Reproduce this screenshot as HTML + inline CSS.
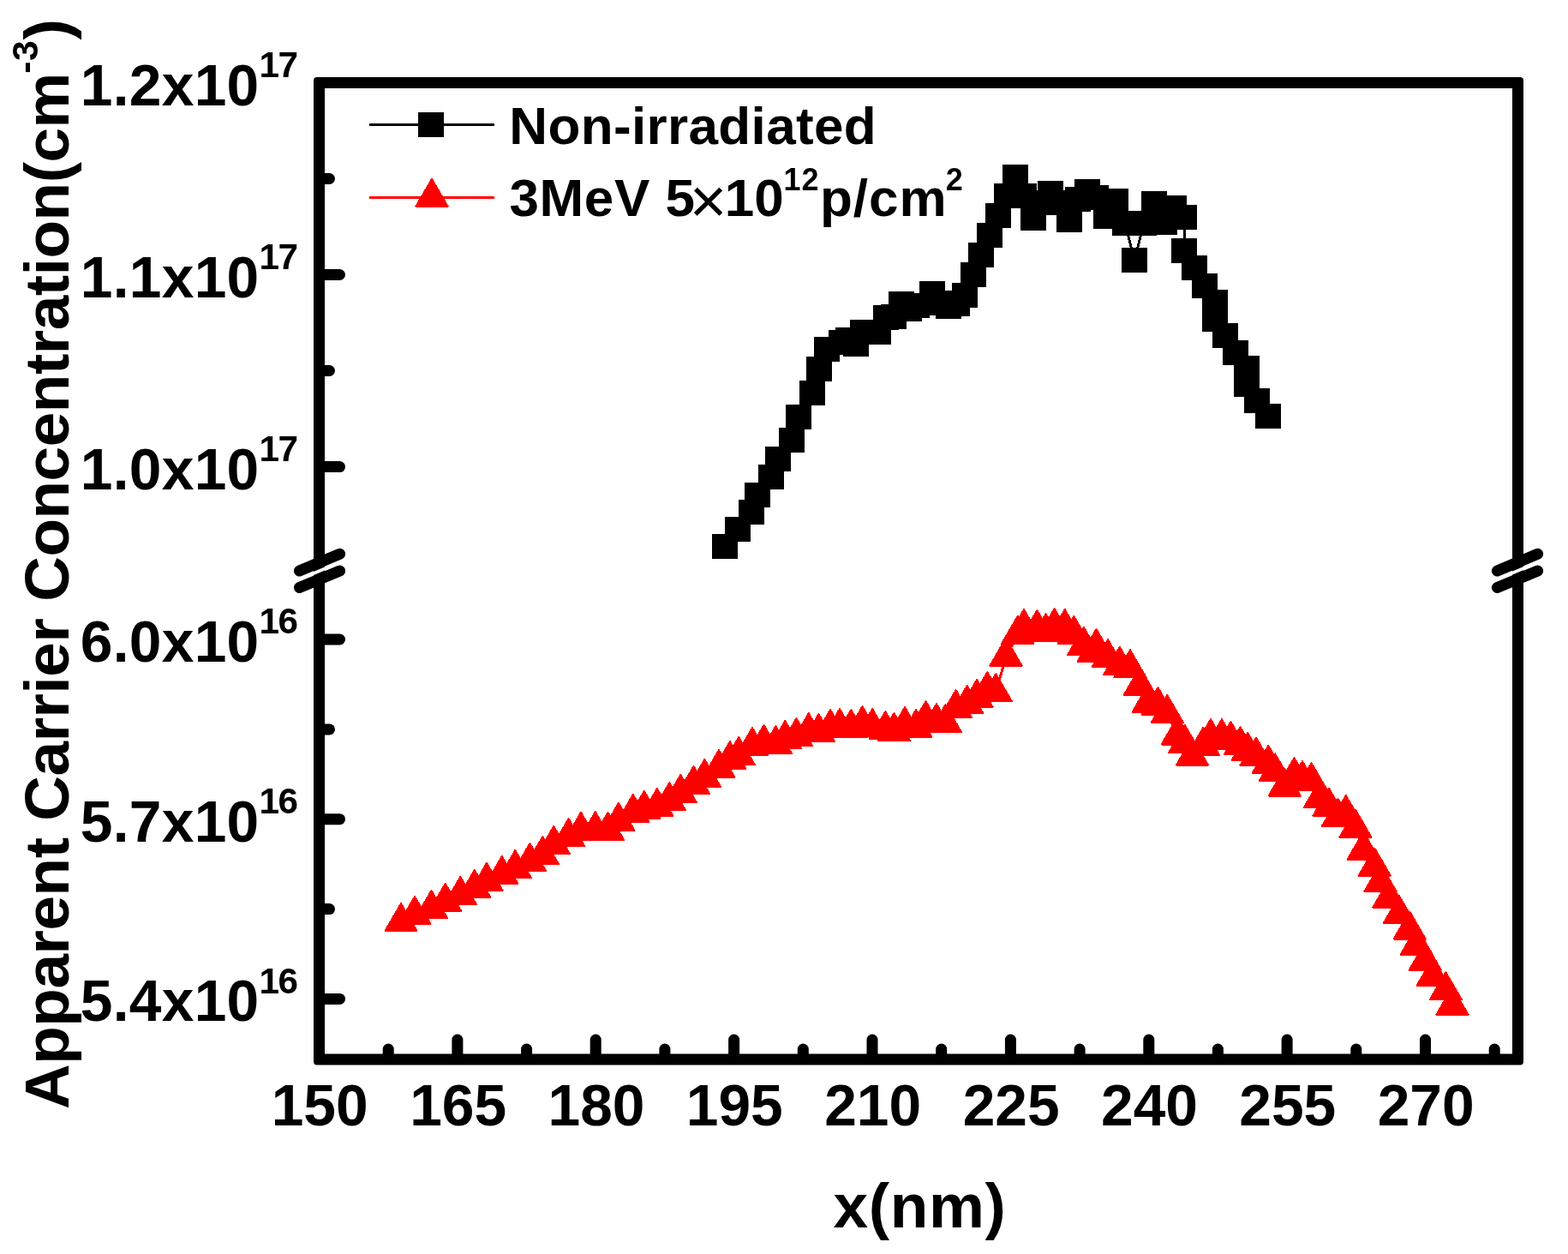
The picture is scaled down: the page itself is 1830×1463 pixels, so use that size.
<!DOCTYPE html>
<html lang="en"><head><meta charset="utf-8"><title>Apparent Carrier Concentration vs x(nm)</title>
<style>html,body{margin:0;padding:0;background:#fff}svg{display:block}</style></head>
<body>
<svg width="1830" height="1463" viewBox="0 0 1830 1463">
<rect width="1830" height="1463" fill="#fff"/>
<g shape-rendering="crispEdges">
<polyline fill="none" stroke="#000" stroke-width="3" points="846.0,637.5 861.0,617.3 876.6,597.4 884.0,577.3 900.0,556.3 908.0,535.3 924.0,513.4 932.0,486.4 948.0,458.0 956.0,430.5 965.0,407.5 982.0,399.5 990.0,396.6 998.8,401.3 1007.2,387.7 1025.0,387.2 1034.0,370.5 1043.0,369.0 1052.0,354.5 1061.0,360.3 1070.0,356.5 1088.0,342.4 1098.0,353.4 1107.0,357.4 1117.0,354.0 1126.0,344.7 1136.0,320.5 1145.0,297.4 1155.0,274.5 1165.0,251.5 1175.0,228.6 1185.0,206.4 1195.0,228.6 1206.0,254.4 1216.0,236.3 1226.4,225.6 1237.0,236.5 1248.0,256.3 1258.0,232.5 1269.0,223.4 1279.4,230.3 1291.0,252.3 1302.0,234.5 1313.0,260.2 1324.0,303.5 1335.0,260.4 1347.0,237.5 1359.0,259.3 1370.0,242.4 1382.0,253.5 1382.0,292.5 1394.0,312.5 1406.0,333.6 1418.0,352.6 1418.0,372.4 1430.0,391.5 1442.0,411.5 1455.0,429.6 1455.0,448.5 1467.0,467.5 1480.0,485.6"/>
<g fill="#000"><rect x="831.0" y="623.0" width="30" height="29"/><rect x="846.0" y="602.8" width="30" height="29"/><rect x="861.6" y="582.9" width="30" height="29"/><rect x="869.0" y="562.8" width="30" height="29"/><rect x="885.0" y="541.8" width="30" height="29"/><rect x="893.0" y="520.8" width="30" height="29"/><rect x="909.0" y="498.9" width="30" height="29"/><rect x="917.0" y="471.9" width="30" height="29"/><rect x="933.0" y="443.5" width="30" height="29"/><rect x="941.0" y="416.0" width="30" height="29"/><rect x="950.0" y="393.0" width="30" height="29"/><rect x="967.0" y="385.0" width="30" height="29"/><rect x="975.0" y="382.1" width="30" height="29"/><rect x="983.8" y="386.8" width="30" height="29"/><rect x="992.2" y="373.2" width="30" height="29"/><rect x="1010.0" y="372.7" width="30" height="29"/><rect x="1019.0" y="356.0" width="30" height="29"/><rect x="1028.0" y="354.5" width="30" height="29"/><rect x="1037.0" y="340.0" width="30" height="29"/><rect x="1046.0" y="345.8" width="30" height="29"/><rect x="1055.0" y="342.0" width="30" height="29"/><rect x="1073.0" y="327.9" width="30" height="29"/><rect x="1083.0" y="338.9" width="30" height="29"/><rect x="1092.0" y="342.9" width="30" height="29"/><rect x="1102.0" y="339.5" width="30" height="29"/><rect x="1111.0" y="330.2" width="30" height="29"/><rect x="1121.0" y="306.0" width="30" height="29"/><rect x="1130.0" y="282.9" width="30" height="29"/><rect x="1140.0" y="260.0" width="30" height="29"/><rect x="1150.0" y="237.0" width="30" height="29"/><rect x="1160.0" y="214.1" width="30" height="29"/><rect x="1170.0" y="191.9" width="30" height="29"/><rect x="1180.0" y="214.1" width="30" height="29"/><rect x="1191.0" y="239.9" width="30" height="29"/><rect x="1201.0" y="221.8" width="30" height="29"/><rect x="1211.4" y="211.1" width="30" height="29"/><rect x="1222.0" y="222.0" width="30" height="29"/><rect x="1233.0" y="241.8" width="30" height="29"/><rect x="1243.0" y="218.0" width="30" height="29"/><rect x="1254.0" y="208.9" width="30" height="29"/><rect x="1264.4" y="215.8" width="30" height="29"/><rect x="1276.0" y="237.8" width="30" height="29"/><rect x="1287.0" y="220.0" width="30" height="29"/><rect x="1298.0" y="245.7" width="30" height="29"/><rect x="1309.0" y="289.0" width="30" height="29"/><rect x="1320.0" y="245.9" width="30" height="29"/><rect x="1332.0" y="223.0" width="30" height="29"/><rect x="1344.0" y="244.8" width="30" height="29"/><rect x="1355.0" y="227.9" width="30" height="29"/><rect x="1367.0" y="239.0" width="30" height="29"/><rect x="1367.0" y="278.0" width="30" height="29"/><rect x="1379.0" y="298.0" width="30" height="29"/><rect x="1391.0" y="319.1" width="30" height="29"/><rect x="1403.0" y="338.1" width="30" height="29"/><rect x="1403.0" y="357.9" width="30" height="29"/><rect x="1415.0" y="377.0" width="30" height="29"/><rect x="1427.0" y="397.0" width="30" height="29"/><rect x="1440.0" y="415.1" width="30" height="29"/><rect x="1440.0" y="434.0" width="30" height="29"/><rect x="1452.0" y="453.0" width="30" height="29"/><rect x="1465.0" y="471.1" width="30" height="29"/></g>
<polyline fill="none" stroke="#f00" stroke-width="3" points="468.0,1075.8 484.0,1067.7 503.5,1060.7 519.7,1052.6 537.3,1044.6 553.8,1036.7 568.0,1028.6 585.8,1020.7 601.3,1013.7 618.4,1005.7 633.3,997.8 646.2,985.7 663.6,976.8 678.0,969.6 694.8,968.9 709.5,969.5 721.9,958.6 738.8,948.7 751.8,944.6 766.9,941.7 781.3,934.8 794.2,925.7 809.5,915.7 822.4,907.6 839.0,896.7 851.9,886.8 862.2,881.8 878.0,870.8 891.5,867.6 905.4,868.9 916.3,862.7 929.4,859.8 943.8,853.9 955.4,854.8 969.0,849.8 980.0,848.8 993.3,849.8 1006.4,845.8 1018.2,848.8 1033.3,851.8 1043.4,853.8 1056.0,846.8 1069.0,849.8 1080.5,839.9 1093.0,842.8 1103.4,843.8 1115.6,826.8 1128.7,821.6 1140.1,814.6 1152.3,805.8 1162.3,808.0 1174.0,766.3 1187.7,740.6 1195.0,732.8 1210.4,733.7 1220.5,737.9 1230.6,731.8 1242.8,732.8 1253.3,740.6 1264.8,753.5 1276.2,761.4 1279.5,755.7 1293.1,768.0 1306.8,776.5 1319.0,780.0 1330.3,800.4 1340.2,820.3 1351.4,823.7 1362.3,832.7 1374.2,858.2 1382.8,867.7 1391.5,882.3 1404.3,870.5 1413.0,860.8 1425.9,860.8 1436.4,863.7 1447.5,869.8 1456.2,876.5 1466.0,882.4 1480.3,891.6 1488.1,901.1 1499.2,918.2 1510.5,905.8 1520.0,909.8 1530.5,911.8 1540.3,932.0 1551.0,941.5 1561.5,953.5 1570.8,949.8 1582.0,966.5 1591.2,992.3 1604.3,1011.3 1611.0,1029.5 1621.0,1048.2 1633.1,1067.1 1645.2,1085.2 1653.2,1103.3 1663.3,1121.3 1672.2,1139.4 1687.3,1156.0 1695.0,1173.4"/>
<g fill="#f00" stroke="#f00" stroke-width="2" stroke-linejoin="round"><polygon points="468.0,1054.1 486.6,1086.1 449.4,1086.1"/><polygon points="484.0,1046.0 502.6,1078.0 465.4,1078.0"/><polygon points="503.5,1039.0 522.1,1071.0 484.9,1071.0"/><polygon points="519.7,1030.9 538.3,1062.9 501.1,1062.9"/><polygon points="537.3,1022.9 555.9,1054.9 518.7,1054.9"/><polygon points="553.8,1015.0 572.4,1047.0 535.2,1047.0"/><polygon points="568.0,1006.9 586.6,1038.9 549.4,1038.9"/><polygon points="585.8,999.0 604.4,1031.0 567.2,1031.0"/><polygon points="601.3,992.0 619.9,1024.0 582.7,1024.0"/><polygon points="618.4,984.0 637.0,1016.0 599.8,1016.0"/><polygon points="633.3,976.1 651.9,1008.1 614.7,1008.1"/><polygon points="646.2,964.0 664.8,996.0 627.6,996.0"/><polygon points="663.6,955.1 682.2,987.1 645.0,987.1"/><polygon points="678.0,947.9 696.6,979.9 659.4,979.9"/><polygon points="694.8,947.2 713.4,979.2 676.2,979.2"/><polygon points="709.5,947.8 728.1,979.8 690.9,979.8"/><polygon points="721.9,936.9 740.5,968.9 703.3,968.9"/><polygon points="738.8,927.0 757.4,959.0 720.2,959.0"/><polygon points="751.8,922.9 770.4,954.9 733.2,954.9"/><polygon points="766.9,920.0 785.5,952.0 748.3,952.0"/><polygon points="781.3,913.1 799.9,945.1 762.7,945.1"/><polygon points="794.2,904.0 812.8,936.0 775.6,936.0"/><polygon points="809.5,894.0 828.1,926.0 790.9,926.0"/><polygon points="822.4,885.9 841.0,917.9 803.8,917.9"/><polygon points="839.0,875.0 857.6,907.0 820.4,907.0"/><polygon points="851.9,865.1 870.5,897.1 833.3,897.1"/><polygon points="862.2,860.1 880.8,892.1 843.6,892.1"/><polygon points="878.0,849.1 896.6,881.1 859.4,881.1"/><polygon points="891.5,845.9 910.1,877.9 872.9,877.9"/><polygon points="905.4,847.2 924.0,879.2 886.8,879.2"/><polygon points="916.3,841.0 934.9,873.0 897.7,873.0"/><polygon points="929.4,838.1 948.0,870.1 910.8,870.1"/><polygon points="943.8,832.2 962.4,864.2 925.2,864.2"/><polygon points="955.4,833.1 974.0,865.1 936.8,865.1"/><polygon points="969.0,828.1 987.6,860.1 950.4,860.1"/><polygon points="980.0,827.1 998.6,859.1 961.4,859.1"/><polygon points="993.3,828.1 1011.9,860.1 974.7,860.1"/><polygon points="1006.4,824.1 1025.0,856.1 987.8,856.1"/><polygon points="1018.2,827.1 1036.8,859.1 999.6,859.1"/><polygon points="1033.3,830.1 1051.9,862.1 1014.7,862.1"/><polygon points="1043.4,832.1 1062.0,864.1 1024.8,864.1"/><polygon points="1056.0,825.1 1074.6,857.1 1037.4,857.1"/><polygon points="1069.0,828.1 1087.6,860.1 1050.4,860.1"/><polygon points="1080.5,818.2 1099.1,850.2 1061.9,850.2"/><polygon points="1093.0,821.1 1111.6,853.1 1074.4,853.1"/><polygon points="1103.4,822.1 1122.0,854.1 1084.8,854.1"/><polygon points="1115.6,805.1 1134.2,837.1 1097.0,837.1"/><polygon points="1128.7,799.9 1147.3,831.9 1110.1,831.9"/><polygon points="1140.1,792.9 1158.7,824.9 1121.5,824.9"/><polygon points="1152.3,784.1 1170.9,816.1 1133.7,816.1"/><polygon points="1162.3,786.3 1180.9,818.3 1143.7,818.3"/><polygon points="1174.0,744.6 1192.6,776.6 1155.4,776.6"/><polygon points="1187.7,718.9 1206.3,750.9 1169.1,750.9"/><polygon points="1195.0,711.1 1213.6,743.1 1176.4,743.1"/><polygon points="1210.4,712.0 1229.0,744.0 1191.8,744.0"/><polygon points="1220.5,716.2 1239.1,748.2 1201.9,748.2"/><polygon points="1230.6,710.1 1249.2,742.1 1212.0,742.1"/><polygon points="1242.8,711.1 1261.4,743.1 1224.2,743.1"/><polygon points="1253.3,718.9 1271.9,750.9 1234.7,750.9"/><polygon points="1264.8,731.8 1283.4,763.8 1246.2,763.8"/><polygon points="1276.2,739.7 1294.8,771.7 1257.6,771.7"/><polygon points="1279.5,734.0 1298.1,766.0 1260.9,766.0"/><polygon points="1293.1,746.3 1311.7,778.3 1274.5,778.3"/><polygon points="1306.8,754.8 1325.4,786.8 1288.2,786.8"/><polygon points="1319.0,758.3 1337.6,790.3 1300.4,790.3"/><polygon points="1330.3,778.7 1348.9,810.7 1311.7,810.7"/><polygon points="1340.2,798.6 1358.8,830.6 1321.6,830.6"/><polygon points="1351.4,802.0 1370.0,834.0 1332.8,834.0"/><polygon points="1362.3,811.0 1380.9,843.0 1343.7,843.0"/><polygon points="1374.2,836.5 1392.8,868.5 1355.6,868.5"/><polygon points="1382.8,846.0 1401.4,878.0 1364.2,878.0"/><polygon points="1391.5,860.6 1410.1,892.6 1372.9,892.6"/><polygon points="1404.3,848.8 1422.9,880.8 1385.7,880.8"/><polygon points="1413.0,839.1 1431.6,871.1 1394.4,871.1"/><polygon points="1425.9,839.1 1444.5,871.1 1407.3,871.1"/><polygon points="1436.4,842.0 1455.0,874.0 1417.8,874.0"/><polygon points="1447.5,848.1 1466.1,880.1 1428.9,880.1"/><polygon points="1456.2,854.8 1474.8,886.8 1437.6,886.8"/><polygon points="1466.0,860.7 1484.6,892.7 1447.4,892.7"/><polygon points="1480.3,869.9 1498.9,901.9 1461.7,901.9"/><polygon points="1488.1,879.4 1506.7,911.4 1469.5,911.4"/><polygon points="1499.2,896.5 1517.8,928.5 1480.6,928.5"/><polygon points="1510.5,884.1 1529.1,916.1 1491.9,916.1"/><polygon points="1520.0,888.1 1538.6,920.1 1501.4,920.1"/><polygon points="1530.5,890.1 1549.1,922.1 1511.9,922.1"/><polygon points="1540.3,910.3 1558.9,942.3 1521.7,942.3"/><polygon points="1551.0,919.8 1569.6,951.8 1532.4,951.8"/><polygon points="1561.5,931.8 1580.1,963.8 1542.9,963.8"/><polygon points="1570.8,928.1 1589.4,960.1 1552.2,960.1"/><polygon points="1582.0,944.8 1600.6,976.8 1563.4,976.8"/><polygon points="1591.2,970.6 1609.8,1002.6 1572.6,1002.6"/><polygon points="1604.3,989.6 1622.9,1021.6 1585.7,1021.6"/><polygon points="1611.0,1007.8 1629.6,1039.8 1592.4,1039.8"/><polygon points="1621.0,1026.5 1639.6,1058.5 1602.4,1058.5"/><polygon points="1633.1,1045.4 1651.7,1077.4 1614.5,1077.4"/><polygon points="1645.2,1063.5 1663.8,1095.5 1626.6,1095.5"/><polygon points="1653.2,1081.6 1671.8,1113.6 1634.6,1113.6"/><polygon points="1663.3,1099.6 1681.9,1131.6 1644.7,1131.6"/><polygon points="1672.2,1117.7 1690.8,1149.7 1653.6,1149.7"/><polygon points="1687.3,1134.3 1705.9,1166.3 1668.7,1166.3"/><polygon points="1695.0,1151.7 1713.6,1183.7 1676.4,1183.7"/></g>
<line x1="431" y1="145.5" x2="577" y2="145.5" stroke="#000" stroke-width="3"/>
<rect x="488" y="131" width="30" height="29" fill="#000"/>
<line x1="431" y1="230.5" x2="577" y2="230.5" stroke="#f00" stroke-width="3"/>
<g fill="#f00" stroke="#f00" stroke-width="2" stroke-linejoin="round"><polygon points="504.0,208.8 522.6,240.8 485.4,240.8"/></g>
</g>
<g stroke="#000" stroke-width="13" fill="none" stroke-linecap="round" stroke-linejoin="round">
<path stroke="none" fill="#000" fill-rule="evenodd" d="M370 90 H1774 Q1778 90 1778 94 V1238.5 Q1778 1242.5 1774 1242.5 H370 Q366 1242.5 366 1238.5 V94 Q366 90 370 90 Z M379 103 V1229.5 H1765 V103 Z"/>
<line x1="373.5" y1="320.5" x2="396.5" y2="320.5"/>
<line x1="373.5" y1="544.6" x2="396.5" y2="544.6"/>
<line x1="373.5" y1="746.0" x2="396.5" y2="746.0"/>
<line x1="373.5" y1="955.7" x2="396.5" y2="955.7"/>
<line x1="373.5" y1="1165.4" x2="396.5" y2="1165.4"/>
<line x1="373.5" y1="208.5" x2="384.5" y2="208.5"/>
<line x1="373.5" y1="432.5" x2="384.5" y2="432.5"/>
<line x1="373.5" y1="850.9" x2="384.5" y2="850.9"/>
<line x1="373.5" y1="1060.6" x2="384.5" y2="1060.6"/>
<line x1="533.9" y1="1235.0" x2="533.9" y2="1213.0"/>
<line x1="695.2" y1="1235.0" x2="695.2" y2="1213.0"/>
<line x1="856.6" y1="1235.0" x2="856.6" y2="1213.0"/>
<line x1="1018.0" y1="1235.0" x2="1018.0" y2="1213.0"/>
<line x1="1179.4" y1="1235.0" x2="1179.4" y2="1213.0"/>
<line x1="1340.8" y1="1235.0" x2="1340.8" y2="1213.0"/>
<line x1="1502.1" y1="1235.0" x2="1502.1" y2="1213.0"/>
<line x1="1663.5" y1="1235.0" x2="1663.5" y2="1213.0"/>
<line x1="453.2" y1="1235.0" x2="453.2" y2="1224.0"/>
<line x1="614.6" y1="1235.0" x2="614.6" y2="1224.0"/>
<line x1="775.9" y1="1235.0" x2="775.9" y2="1224.0"/>
<line x1="937.3" y1="1235.0" x2="937.3" y2="1224.0"/>
<line x1="1098.7" y1="1235.0" x2="1098.7" y2="1224.0"/>
<line x1="1260.1" y1="1235.0" x2="1260.1" y2="1224.0"/>
<line x1="1421.4" y1="1235.0" x2="1421.4" y2="1224.0"/>
<line x1="1582.8" y1="1235.0" x2="1582.8" y2="1224.0"/>
<line x1="1744.2" y1="1235.0" x2="1744.2" y2="1224.0"/>
</g>
<g stroke="#fff" stroke-width="3.6" fill="none">
<line x1="349.4" y1="676" x2="396.6" y2="656"/>
<line x1="1747.4" y1="676" x2="1794.6" y2="656"/>
</g>
<g stroke="#000" stroke-width="13" fill="none" stroke-linecap="round">
<line x1="349.4" y1="666" x2="396.6" y2="646.3"/>
<line x1="349.4" y1="685.6" x2="396.6" y2="666"/>
<line x1="1747.4" y1="666" x2="1794.6" y2="646.3"/>
<line x1="1747.4" y1="685.6" x2="1794.6" y2="666"/>
</g>
<g font-family="'Liberation Sans', Arial, sans-serif" font-weight="bold" fill="#000">
<text x="93.7" y="122.5" font-size="67.7" letter-spacing="0.3">1.2x10<tspan font-size="42.3" dy="-32.6" letter-spacing="-1.6">17</tspan></text>
<text x="93.7" y="346.5" font-size="67.7" letter-spacing="0.3">1.1x10<tspan font-size="42.3" dy="-32.6" letter-spacing="-1.6">17</tspan></text>
<text x="93.7" y="570.6" font-size="67.7" letter-spacing="0.3">1.0x10<tspan font-size="42.3" dy="-32.6" letter-spacing="-1.6">17</tspan></text>
<text x="93.7" y="772.0" font-size="67.7" letter-spacing="0.3">6.0x10<tspan font-size="42.3" dy="-32.6" letter-spacing="-1.6">16</tspan></text>
<text x="93.7" y="981.7" font-size="67.7" letter-spacing="0.3">5.7x10<tspan font-size="42.3" dy="-32.6" letter-spacing="-1.6">16</tspan></text>
<text x="93.7" y="1191.4" font-size="67.7" letter-spacing="0.3">5.4x10<tspan font-size="42.3" dy="-32.6" letter-spacing="-1.6">16</tspan></text>
<text x="373.2" y="1313" font-size="67.7" text-anchor="middle">150</text>
<text x="534.6" y="1313" font-size="67.7" text-anchor="middle">165</text>
<text x="696.0" y="1313" font-size="67.7" text-anchor="middle">180</text>
<text x="857.3" y="1313" font-size="67.7" text-anchor="middle">195</text>
<text x="1018.7" y="1313" font-size="67.7" text-anchor="middle">210</text>
<text x="1180.1" y="1313" font-size="67.7" text-anchor="middle">225</text>
<text x="1341.5" y="1313" font-size="67.7" text-anchor="middle">240</text>
<text x="1502.8" y="1313" font-size="67.7" text-anchor="middle">255</text>
<text x="1664.2" y="1313" font-size="67.7" text-anchor="middle">270</text>
<text x="972.4" y="1431.8" font-size="73" textLength="201.5" lengthAdjust="spacing">x(nm)</text>
<g transform="translate(80,0) rotate(-90)">
<text x="-1294" y="0" font-size="73" textLength="1209.5" lengthAdjust="spacing">Apparent Carrier Concentration(cm</text>
<text x="-85.7" y="-36.4" font-size="42.6" letter-spacing="0.5">-3</text>
<text x="-46.5" y="0" font-size="73">)</text>
</g>
<text x="594.3" y="167.9" font-size="62.0" textLength="428.4" lengthAdjust="spacing">Non-irradiated</text>
<text x="594.5" y="252" font-size="62.0" textLength="163.8" lengthAdjust="spacing">3MeV</text>
<text x="776.4" y="252" font-size="62.0">5</text>
<text x="804.8" y="260.1" font-size="74.7" font-weight="normal">×</text>
<text x="845.8" y="252" font-size="62.0">10</text>
<text x="914.5" y="221.5" font-size="36.0" letter-spacing="1">12</text>
<text x="957" y="252" font-size="62.0" textLength="147.6" lengthAdjust="spacing">p/cm</text>
<text x="1103.8" y="221.5" font-size="36.0">2</text>
</g>
</svg>
</body></html>
